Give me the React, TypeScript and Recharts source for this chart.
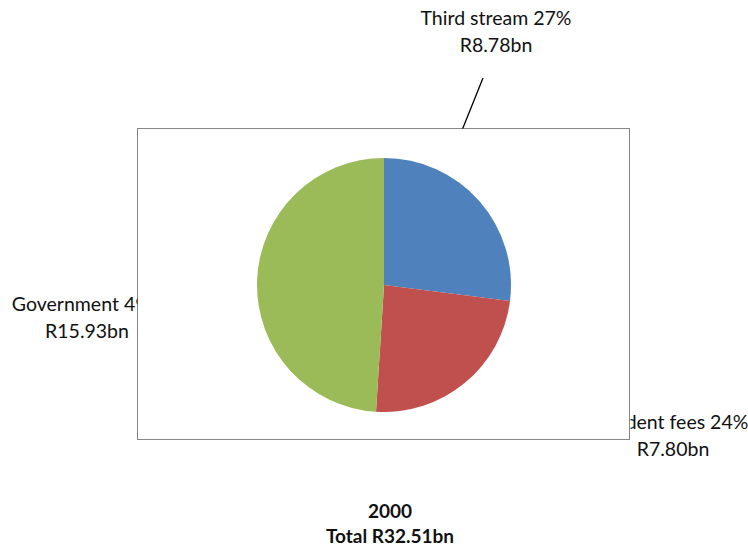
import { Cell, Pie, PieChart } from "recharts";

const categories = ["Third stream", "Student fees", "Government"];
const percents = [27, 24, 49];
const amounts = [8.78, 7.8, 15.93];
const colors = ["#4F81BD", "#C0504D", "#9BBB59"];

const year = "2000";
const total = "Total R32.51bn";

const data = categories.map((name, i) => ({
  name,
  value: amounts[i],
  pct: percents[i],
}));

// label placement relative to the pie centre (Excel labels were dragged by hand)
const labelPos = [
  { dx: 112, dy: -260, line: [99, -207, 40, -60] },
  { dx: 289, dy: 144 },
  { dx: -297, dy: 26 },
];

const FONT = "Lato, 'Open Sans', sans-serif";
const BOX = { x: 137.5, y: 128.5, w: 493, h: 312 };

// eslint-disable-next-line @typescript-eslint/no-explicit-any
function renderLabel(props: any) {
  const { cx, cy, index } = props;
  const p = labelPos[index];
  const d = data[index];
  return (
    <g clipPath="url(#outsideBox)" key={index}>
      {p.line && (
        <line
          x1={cx + p.line[0]}
          y1={cy + p.line[1]}
          x2={cx + p.line[2]}
          y2={cy + p.line[3]}
          stroke="#000"
          strokeWidth={1.3}
        />
      )}
      <text
        x={cx + p.dx}
        y={cy + p.dy}
        textAnchor="middle"
        fontFamily={FONT}
        fontSize={19.5}
        fill="#111"
      >
        {`${d.name} ${d.pct}%`}
      </text>
      <text
        x={cx + p.dx}
        y={cy + p.dy + 26.5}
        textAnchor="middle"
        fontFamily={FONT}
        fontSize={19.5}
        fill="#111"
      >
        {`R${d.value.toFixed(2)}bn`}
      </text>
    </g>
  );
}

export default function App() {
  return (
    <div style={{ position: "absolute", left: 0, top: 0, width: 748, height: 548, background: "#fff" }}>
      <div
        style={{
          position: "absolute",
          left: BOX.x - 0.5,
          top: BOX.y - 0.5,
          width: BOX.w,
          height: BOX.h,
          border: "1.5px solid #878787",
          boxSizing: "border-box",
          background: "#fff",
        }}
      />
      <div style={{ position: "absolute", left: 0, top: 0 }}>
        <PieChart width={748} height={548} margin={{ top: 0, right: 0, bottom: 0, left: 0 }}>
          <defs>
            <clipPath id="outsideBox">
              <path
                clipRule="evenodd"
                d={`M0 0H748V548H0Z M${BOX.x} ${BOX.y}V${BOX.y + BOX.h}H${BOX.x + BOX.w}V${BOX.y}Z`}
              />
            </clipPath>
          </defs>
          <Pie
            data={data}
            dataKey="value"
            nameKey="name"
            cx={384}
            cy={285}
            outerRadius={127}
            startAngle={90}
            endAngle={-270}
            stroke="none"
            label={renderLabel}
            labelLine={false}
            isAnimationActive={false}
          >
            {data.map((d, i) => (
              <Cell key={d.name} fill={colors[i]} />
            ))}
          </Pie>
          <text x={390} y={518} textAnchor="middle" fontFamily={FONT} fontSize={19} fontWeight="bold" fill="#111">
            {year}
          </text>
          <text x={390} y={543} textAnchor="middle" fontFamily={FONT} fontSize={19} fontWeight="bold" fill="#111">
            {total}
          </text>
        </PieChart>
      </div>
    </div>
  );
}
